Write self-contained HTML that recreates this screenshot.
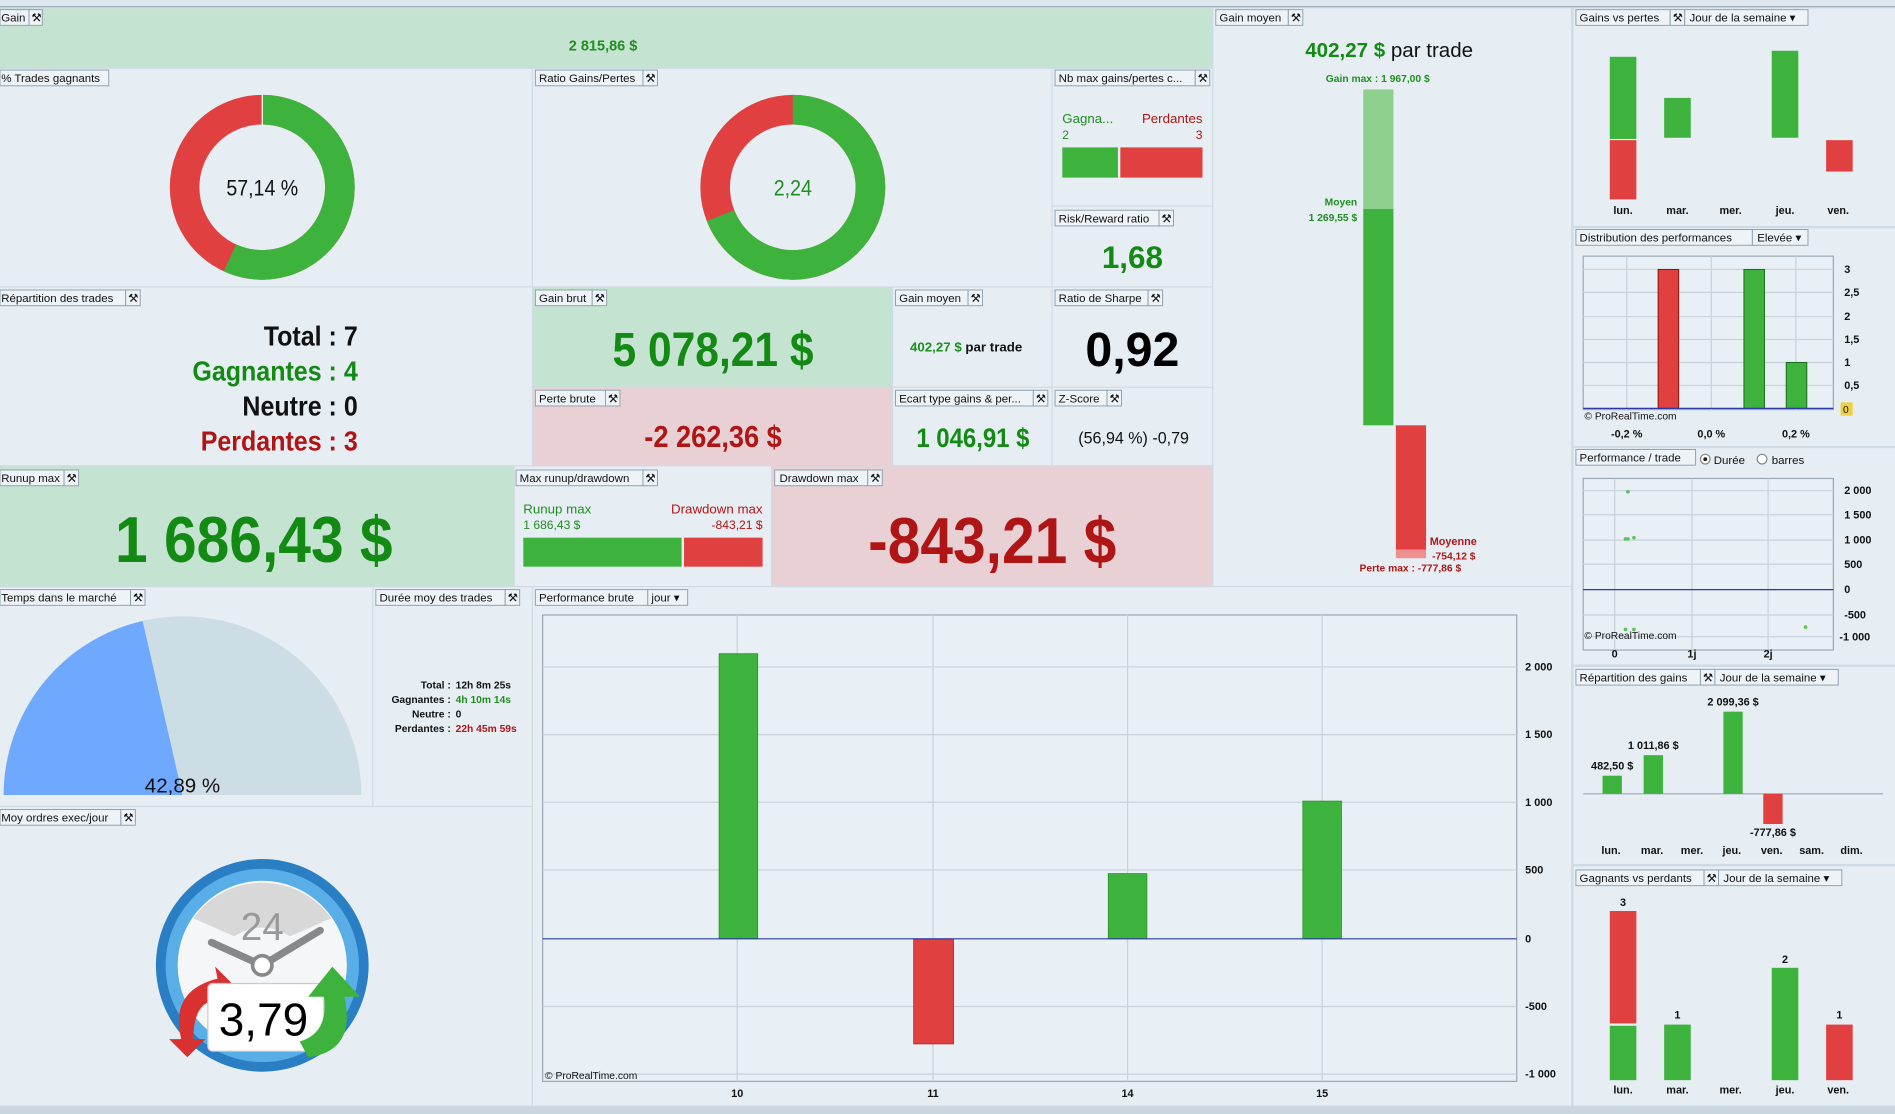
<!DOCTYPE html>
<html><head><meta charset="utf-8"><style>
html,body{margin:0;padding:0;background:#d6e0e8;}
svg{display:block;font-family:"Liberation Sans",Arial,sans-serif;}
.h{font-size:9.5px;fill:#111;}
.tab{fill:#eef3f7;stroke:#8fa0ad;stroke-width:0.8;}
.ax{font-size:9px;font-weight:bold;fill:#111;}
</style></head><body>
<svg width="1895" height="1114" viewBox="0 0 1568 922" preserveAspectRatio="none" xmlns="http://www.w3.org/2000/svg">
<rect width="1568" height="922" fill="#cfdbe4"/>
<rect x="0" y="0" width="1568" height="6" fill="#dfe7ee"/>
<line x1="0" y1="5.5" x2="1568" y2="5.5" stroke="#9fb0bd"/>
<!-- panels -->
<rect x="0" y="7" width="1003" height="49" fill="#c5e3d1"/>
<rect x="1004" y="7" width="296" height="478" fill="#e6eef4"/>
<rect x="1302" y="7" width="266" height="180" fill="#e6eef4"/>
<rect x="1302" y="189" width="266" height="180" fill="#e6eef4"/>
<rect x="1302" y="371" width="266" height="179" fill="#e6eef4"/>
<rect x="1302" y="552" width="266" height="163" fill="#e6eef4"/>
<rect x="1302" y="717" width="266" height="198" fill="#e6eef4"/>
<rect x="0" y="57" width="440" height="180" fill="#e6eef4"/>
<rect x="441" y="57" width="429" height="180" fill="#e6eef4"/>
<rect x="871" y="57" width="132" height="113" fill="#e6eef4"/>
<rect x="871" y="171" width="132" height="66" fill="#e6eef4"/>
<rect x="0" y="238" width="440" height="147" fill="#e6eef4"/>
<rect x="441" y="238" width="297" height="82" fill="#c5e3d1"/>
<rect x="739" y="238" width="131" height="82" fill="#e6eef4"/>
<rect x="871" y="238" width="132" height="82" fill="#e6eef4"/>
<rect x="441" y="321" width="297" height="64" fill="#e8d0d4"/>
<rect x="739" y="321" width="131" height="64" fill="#e6eef4"/>
<rect x="871" y="321" width="132" height="64" fill="#e6eef4"/>
<rect x="0" y="386" width="425" height="99" fill="#c5e3d1"/>
<rect x="426" y="386" width="212" height="99" fill="#e6eef4"/>
<rect x="639" y="386" width="364" height="99" fill="#e8d0d4"/>
<rect x="0" y="486" width="308" height="181" fill="#e6eef4"/>
<rect x="309" y="486" width="131" height="181" fill="#e6eef4"/>
<rect x="0" y="668" width="440" height="247" fill="#e6eef4"/>
<rect x="441" y="486" width="859" height="429" fill="#e6eef4"/>
<rect x="0" y="916" width="1568" height="6" fill="#c9d6df"/>

<!-- headers -->
<g>
<rect class="tab" x="0" y="8" width="24" height="13"/><text class="h" x="1" y="18">Gain</text><rect class="tab" x="24" y="8" width="11" height="13"/><text class="h" x="26" y="18">⚒</text>
<rect class="tab" x="0" y="58" width="90" height="13"/><text class="h" x="1" y="68">% Trades gagnants</text>
<rect class="tab" x="443" y="58" width="89" height="13"/><text class="h" x="446" y="68">Ratio Gains/Pertes</text><rect class="tab" x="532" y="58" width="12" height="13"/><text class="h" x="534" y="68">⚒</text>
<rect class="tab" x="873" y="58" width="116" height="13"/><text class="h" x="876" y="68">Nb max gains/pertes c...</text><rect class="tab" x="989" y="58" width="12" height="13"/><text class="h" x="991" y="68">⚒</text>
<rect class="tab" x="873" y="174" width="86" height="13"/><text class="h" x="876" y="184">Risk/Reward ratio</text><rect class="tab" x="959" y="174" width="12" height="13"/><text class="h" x="961" y="184">⚒</text>
<rect class="tab" x="0" y="240" width="104" height="13"/><text class="h" x="1" y="250">Répartition des trades</text><rect class="tab" x="104" y="240" width="12" height="13"/><text class="h" x="106" y="250">⚒</text>
<rect class="tab" x="443" y="240" width="47" height="13"/><text class="h" x="446" y="250">Gain brut</text><rect class="tab" x="490" y="240" width="12" height="13"/><text class="h" x="492" y="250">⚒</text>
<rect class="tab" x="741" y="240" width="60" height="13"/><text class="h" x="744" y="250">Gain moyen</text><rect class="tab" x="801" y="240" width="12" height="13"/><text class="h" x="803" y="250">⚒</text>
<rect class="tab" x="873" y="240" width="77" height="13"/><text class="h" x="876" y="250">Ratio de Sharpe</text><rect class="tab" x="950" y="240" width="12" height="13"/><text class="h" x="952" y="250">⚒</text>
<rect class="tab" x="443" y="323" width="58" height="13"/><text class="h" x="446" y="333">Perte brute</text><rect class="tab" x="501" y="323" width="12" height="13"/><text class="h" x="503" y="333">⚒</text>
<rect class="tab" x="741" y="323" width="114" height="13"/><text class="h" x="744" y="333">Ecart type gains &amp; per...</text><rect class="tab" x="855" y="323" width="12" height="13"/><text class="h" x="857" y="333">⚒</text>
<rect class="tab" x="873" y="323" width="43" height="13"/><text class="h" x="876" y="333">Z-Score</text><rect class="tab" x="916" y="323" width="12" height="13"/><text class="h" x="918" y="333">⚒</text>
<rect class="tab" x="0" y="389" width="53" height="13"/><text class="h" x="1" y="399">Runup max</text><rect class="tab" x="53" y="389" width="12" height="13"/><text class="h" x="55" y="399">⚒</text>
<rect class="tab" x="427" y="389" width="105" height="13"/><text class="h" x="430" y="399">Max runup/drawdown</text><rect class="tab" x="532" y="389" width="12" height="13"/><text class="h" x="534" y="399">⚒</text>
<rect class="tab" x="641" y="389" width="77" height="13"/><text class="h" x="645" y="399">Drawdown max</text><rect class="tab" x="718" y="389" width="12" height="13"/><text class="h" x="720" y="399">⚒</text>
<rect class="tab" x="0" y="488" width="108" height="13"/><text class="h" x="1" y="498">Temps dans le marché</text><rect class="tab" x="108" y="488" width="12" height="13"/><text class="h" x="110" y="498">⚒</text>
<rect class="tab" x="311" y="488" width="107" height="13"/><text class="h" x="314" y="498">Durée moy des trades</text><rect class="tab" x="418" y="488" width="12" height="13"/><text class="h" x="420" y="498">⚒</text>
<rect class="tab" x="443" y="488" width="93" height="13"/><text class="h" x="446" y="498">Performance brute</text><rect class="tab" x="536" y="488" width="33" height="13"/><text class="h" x="539" y="498">jour ▾</text>
<rect class="tab" x="0" y="670" width="100" height="13"/><text class="h" x="1" y="680">Moy ordres exec/jour</text><rect class="tab" x="100" y="670" width="12" height="13"/><text class="h" x="102" y="680">⚒</text>
<rect class="tab" x="1006" y="8" width="60" height="13"/><text class="h" x="1009" y="18">Gain moyen</text><rect class="tab" x="1066" y="8" width="12" height="13"/><text class="h" x="1068" y="18">⚒</text>
<rect class="tab" x="1304" y="8" width="78" height="13"/><text class="h" x="1307" y="18">Gains vs pertes</text><rect class="tab" x="1382" y="8" width="12" height="13"/><text class="h" x="1384" y="18">⚒</text><rect class="tab" x="1394" y="8" width="102" height="13"/><text class="h" x="1398" y="18">Jour de la semaine ▾</text>
<rect class="tab" x="1304" y="190" width="146" height="13"/><text class="h" x="1307" y="200">Distribution des performances</text><rect class="tab" x="1450" y="190" width="46" height="13"/><text class="h" x="1454" y="200">Elevée ▾</text>
<rect class="tab" x="1304" y="372" width="99" height="13"/><text class="h" x="1307" y="382">Performance / trade</text>
<circle cx="1411" cy="380" r="4" fill="#fff" stroke="#888"/><circle cx="1411" cy="380" r="1.6" fill="#222"/><text class="h" x="1418" y="384">Durée</text>
<circle cx="1458" cy="380" r="4" fill="#fff" stroke="#888"/><text class="h" x="1466" y="384">barres</text>
<rect class="tab" x="1304" y="554" width="103" height="13"/><text class="h" x="1307" y="564">Répartition des gains</text><rect class="tab" x="1407" y="554" width="12" height="13"/><text class="h" x="1409" y="564">⚒</text><rect class="tab" x="1419" y="554" width="102" height="13"/><text class="h" x="1423" y="564">Jour de la semaine ▾</text>
<rect class="tab" x="1304" y="720" width="106" height="13"/><text class="h" x="1307" y="730">Gagnants vs perdants</text><rect class="tab" x="1410" y="720" width="12" height="13"/><text class="h" x="1412" y="730">⚒</text><rect class="tab" x="1422" y="720" width="102" height="13"/><text class="h" x="1426" y="730">Jour de la semaine ▾</text>
</g>

<!-- Gain -->
<text x="499" y="42" font-size="12" font-weight="bold" fill="#1f8f1f" text-anchor="middle">2 815,86 $</text>

<!-- donut 1 -->
<g transform="translate(217,155)">
<circle r="64.25" fill="none" stroke="#e04040" stroke-width="24.5"/>
<path d="M0,-76.5 A76.5,76.5 0 1 1 -31.8,69.6 L-21.6,47.3 A52,52 0 1 0 0,-52 Z" fill="#3db33d"/>
<line x1="0" y1="-77" x2="0" y2="-51" stroke="#fff"/>
<text y="7" font-size="18" text-anchor="middle" fill="#111" transform="scale(0.9,1)">57,14 %</text>
</g>
<g transform="translate(656,155)">
<circle r="64.25" fill="none" stroke="#e04040" stroke-width="24.5"/>
<path d="M0,-76.5 A76.5,76.5 0 1 1 -71.2,28.0 L-48.4,19.0 A52,52 0 1 0 0,-52 Z" fill="#3db33d"/>
<text y="7" font-size="18" text-anchor="middle" fill="#1f8f1f" transform="scale(0.9,1)">2,24</text>
</g>

<!-- Nb max -->
<text x="879" y="102" font-size="11" fill="#1f8f1f">Gagna...</text>
<text x="995" y="102" font-size="11" fill="#b01515" text-anchor="end">Perdantes</text>
<text x="879" y="115" font-size="10" fill="#1f8f1f">2</text>
<text x="995" y="115" font-size="10" fill="#b01515" text-anchor="end">3</text>
<rect x="879" y="122" width="46" height="25" fill="#3db33d"/><rect x="927" y="122" width="68" height="25" fill="#e04040"/>
<text x="937" y="222" font-size="26" font-weight="bold" fill="#138a13" text-anchor="middle">1,68</text>

<!-- Répartition -->
<g font-size="23" font-weight="bold" text-anchor="end" transform="translate(296,0) scale(0.9,1)">
<text x="0" y="286" fill="#111">Total : 7</text>
<text x="0" y="315" fill="#138a13">Gagnantes : 4</text>
<text x="0" y="344" fill="#111">Neutre : 0</text>
<text x="0" y="373" fill="#b01515">Perdantes : 3</text>
</g>
<text font-size="40" font-weight="bold" fill="#138a13" text-anchor="middle" transform="translate(590,303) scale(0.88,1)">5 078,21 $</text>
<text x="753" y="291" font-size="11" font-weight="bold" fill="#1f8f1f">402,27 $ <tspan fill="#111">par trade</tspan></text>
<text x="937" y="303" font-size="40" font-weight="bold" fill="#000" text-anchor="middle">0,92</text>
<text font-size="25" font-weight="bold" fill="#b01515" text-anchor="middle" transform="translate(590,370) scale(0.9,1)">-2 262,36 $</text>
<text font-size="22" font-weight="bold" fill="#138a13" text-anchor="middle" transform="translate(805,370) scale(0.9,1)">1 046,91 $</text>
<text font-size="14" fill="#111" text-anchor="middle" transform="translate(938,367) scale(0.95,1)">(56,94 %) -0,79</text>

<text font-size="54" font-weight="bold" fill="#138a13" text-anchor="middle" transform="translate(210,465) scale(0.9,1)">1 686,43 $</text>
<text x="433" y="425" font-size="11" fill="#1f8f1f">Runup max</text>
<text x="631" y="425" font-size="11" fill="#b01515" text-anchor="end">Drawdown max</text>
<text x="433" y="438" font-size="10" fill="#1f8f1f">1 686,43 $</text>
<text x="631" y="438" font-size="10" fill="#b01515" text-anchor="end">-843,21 $</text>
<rect x="433" y="445" width="131" height="24" fill="#3db33d"/><rect x="566" y="445" width="65" height="24" fill="#e04040"/>
<text font-size="54" font-weight="bold" fill="#b01515" text-anchor="middle" transform="translate(821,466) scale(0.9,1)">-843,21 $</text>

<!-- Gain moyen tall -->
<text x="1080" y="47" font-size="17" font-weight="bold" fill="#138a13">402,27 $ <tspan fill="#111" font-weight="normal">par trade</tspan></text>
<text x="1140" y="68" font-size="8.5" font-weight="bold" fill="#1f8f1f" text-anchor="middle">Gain max : 1 967,00 $</text>
<rect x="1128" y="74" width="25" height="99" fill="#8dd08d"/>
<rect x="1128" y="173" width="25" height="179" fill="#3db33d"/>
<rect x="1155" y="352" width="25" height="103" fill="#e04040"/>
<rect x="1155" y="455" width="25" height="7" fill="#ee9090"/>
<text x="1123" y="170" font-size="8.5" font-weight="bold" fill="#1f8f1f" text-anchor="end">Moyen</text>
<text x="1123" y="183" font-size="8.5" font-weight="bold" fill="#1f8f1f" text-anchor="end">1 269,55 $</text>
<text x="1183" y="451" font-size="9" font-weight="bold" fill="#b01515">Moyenne</text>
<text x="1185" y="463" font-size="8.5" font-weight="bold" fill="#b01515">-754,12 $</text>
<text x="1167" y="473" font-size="8.5" font-weight="bold" fill="#b01515" text-anchor="middle">Perte max : -777,86 $</text>

<!-- Temps -->
<path d="M3,658 A148,148 0 0 1 299,658 Z" fill="#cddde6"/>
<path d="M3,658 A148,148 0 0 1 118,514 L151,658 Z" fill="#6fa8ff"/>
<text x="151" y="656" font-size="17" fill="#111" text-anchor="middle">42,89 %</text>
<g font-size="8.5" font-weight="bold">
<text x="373" y="570" fill="#111" text-anchor="end">Total :</text>
<text x="373" y="582" fill="#111" text-anchor="end">Gagnantes :</text>
<text x="373" y="594" fill="#111" text-anchor="end">Neutre :</text>
<text x="373" y="606" fill="#111" text-anchor="end">Perdantes :</text>
<text x="377" y="570" fill="#111">12h 8m 25s</text>
<text x="377" y="582" fill="#1f8f1f">4h 10m 14s</text>
<text x="377" y="594" fill="#111">0</text>
<text x="377" y="606" fill="#b01515">22h 45m 59s</text>
</g>

<!-- clock -->
<g>
<circle cx="217" cy="799" r="88" fill="#2a7fc4"/>
<circle cx="217" cy="799" r="80" fill="#5aaee8"/>
<circle cx="217" cy="799" r="70" fill="#f4f6f8"/>
<path d="M160,760 A70,70 0 0 1 274,760 L240,775 A40,40 0 0 0 194,775 Z" fill="#d8d8d8"/>
<text x="217" y="778" font-size="32" fill="#999" text-anchor="middle">24</text>
<path d="M217,799 L175,780 M217,799 L265,770" stroke="#888" stroke-width="6" stroke-linecap="round"/>
<circle cx="217" cy="799" r="8" fill="#fff" stroke="#888" stroke-width="3"/>
<path d="M150,860 Q140,820 180,810 L178,800 L200,822 L175,840 L178,828 Q160,830 160,860 L170,860 L155,875 L140,860 Z" fill="#d93030"/>
<rect x="172" y="814" width="96" height="56" rx="4" fill="#fff" stroke="#ccc"/>
<path d="M255,875 Q295,870 285,825 L298,825 L275,800 L255,825 L268,825 Q272,855 248,862 Z" fill="#3db33d"/>
<text x="218" y="857" font-size="38" fill="#000" text-anchor="middle">3,79</text>
</g>

<!-- Performance brute chart -->
<rect x="449" y="509" width="806" height="386" fill="#e8eff5" stroke="#9aa8b4"/>
<g stroke="#c7d2db">
<line x1="610" y1="509" x2="610" y2="895"/><line x1="772" y1="509" x2="772" y2="895"/><line x1="933" y1="509" x2="933" y2="895"/><line x1="1094" y1="509" x2="1094" y2="895"/>
<line x1="449" y1="552" x2="1255" y2="552"/><line x1="449" y1="608" x2="1255" y2="608"/><line x1="449" y1="664" x2="1255" y2="664"/><line x1="449" y1="720" x2="1255" y2="720"/><line x1="449" y1="833" x2="1255" y2="833"/><line x1="449" y1="889" x2="1255" y2="889"/>
</g>
<rect x="595" y="541" width="32" height="236" fill="#3db33d" stroke="#2a8a2a" stroke-width="0.6"/>
<rect x="756" y="777" width="33" height="87" fill="#e04040" stroke="#a02020" stroke-width="0.6"/>
<rect x="917" y="723" width="32" height="54" fill="#3db33d" stroke="#2a8a2a" stroke-width="0.6"/>
<rect x="1078" y="663" width="32" height="114" fill="#3db33d" stroke="#2a8a2a" stroke-width="0.6"/>
<line x1="449" y1="777" x2="1255" y2="777" stroke="#2a3aa0"/>
<g class="ax" font-weight="normal">
<text x="1262" y="555">2 000</text><text x="1262" y="611">1 500</text><text x="1262" y="667">1 000</text><text x="1262" y="723">500</text><text x="1262" y="780">0</text><text x="1262" y="836">-500</text><text x="1262" y="892">-1 000</text>
</g>
<g class="ax" text-anchor="middle"><text x="610" y="908">10</text><text x="772" y="908">11</text><text x="933" y="908">14</text><text x="1094" y="908">15</text></g>
<text x="451" y="893" font-size="8.5" fill="#111">© ProRealTime.com</text>

<!-- Gains vs pertes -->
<rect x="1332" y="47" width="22" height="68" fill="#3db33d"/><rect x="1332" y="116" width="22" height="49" fill="#e04040"/>
<rect x="1377" y="81" width="22" height="33" fill="#3db33d"/>
<rect x="1466" y="42" width="22" height="72" fill="#3db33d"/>
<rect x="1511" y="116" width="22" height="26" fill="#e04040"/>
<g class="ax" text-anchor="middle"><text x="1343" y="177">lun.</text><text x="1388" y="177">mar.</text><text x="1432" y="177">mer.</text><text x="1477" y="177">jeu.</text><text x="1521" y="177">ven.</text></g>

<!-- Distribution -->
<rect x="1310" y="212" width="207" height="127" fill="#e8eff5" stroke="#9aa8b4"/>
<g stroke="#c7d2db"><line x1="1346" y1="212" x2="1346" y2="339"/><line x1="1416" y1="212" x2="1416" y2="339"/><line x1="1486" y1="212" x2="1486" y2="339"/>
<line x1="1310" y1="223" x2="1517" y2="223"/><line x1="1310" y1="242" x2="1517" y2="242"/><line x1="1310" y1="262" x2="1517" y2="262"/><line x1="1310" y1="281" x2="1517" y2="281"/><line x1="1310" y1="300" x2="1517" y2="300"/><line x1="1310" y1="319" x2="1517" y2="319"/></g>
<rect x="1372" y="223" width="17" height="115" fill="#e04040" stroke="#8a1010" stroke-width="0.8"/>
<rect x="1443" y="223" width="17" height="115" fill="#3db33d" stroke="#1a6a1a" stroke-width="0.8"/>
<rect x="1478" y="300" width="17" height="38" fill="#3db33d" stroke="#1a6a1a" stroke-width="0.8"/>
<line x1="1310" y1="338" x2="1517" y2="338" stroke="#2a3aa0"/>
<text x="1311" y="347" font-size="8.5" fill="#111">© ProRealTime.com</text>
<g class="ax" font-weight="normal" font-size="8.5"><text x="1526" y="226">3</text><text x="1526" y="245">2,5</text><text x="1526" y="265">2</text><text x="1526" y="284">1,5</text><text x="1526" y="303">1</text><text x="1526" y="322">0,5</text></g>
<rect x="1523" y="333" width="10" height="11" fill="#f0d040"/><text x="1525" y="342" font-size="8.5" fill="#111">0</text>
<g class="ax" text-anchor="middle" font-size="8.5"><text x="1346" y="362">-0,2 %</text><text x="1416" y="362">0,0 %</text><text x="1486" y="362">0,2 %</text></g>

<!-- Performance / trade -->
<rect x="1310" y="396" width="207" height="142" fill="#e8eff5" stroke="#9aa8b4"/>
<g stroke="#c7d2db"><line x1="1336" y1="396" x2="1336" y2="538"/><line x1="1400" y1="396" x2="1400" y2="538"/><line x1="1463" y1="396" x2="1463" y2="538"/>
<line x1="1310" y1="406" x2="1517" y2="406"/><line x1="1310" y1="426" x2="1517" y2="426"/><line x1="1310" y1="447" x2="1517" y2="447"/><line x1="1310" y1="467" x2="1517" y2="467"/><line x1="1310" y1="509" x2="1517" y2="509"/><line x1="1310" y1="527" x2="1517" y2="527"/></g>
<line x1="1310" y1="488" x2="1517" y2="488" stroke="#2a3aa0"/>
<g fill="#5cc25c"><circle cx="1347" cy="407" r="1.5"/><circle cx="1345" cy="446" r="1.5"/><circle cx="1347" cy="446" r="1.5"/><circle cx="1352" cy="445" r="1.5"/><circle cx="1345" cy="521" r="1.5"/><circle cx="1352" cy="521" r="1.5"/><circle cx="1494" cy="519" r="1.5"/></g>
<text x="1311" y="529" font-size="8.5" fill="#111">© ProRealTime.com</text>
<g class="ax" font-weight="normal" font-size="8.5"><text x="1526" y="409">2 000</text><text x="1526" y="429">1 500</text><text x="1526" y="450">1 000</text><text x="1526" y="470">500</text><text x="1526" y="491">0</text><text x="1526" y="512">-500</text><text x="1522" y="530">-1 000</text></g>
<g class="ax" text-anchor="middle" font-size="8.5"><text x="1336" y="544">0</text><text x="1400" y="544">1j</text><text x="1463" y="544">2j</text></g>

<!-- Répartition des gains -->
<line x1="1310" y1="657" x2="1558" y2="657" stroke="#9aa8b4"/>
<rect x="1326" y="642" width="16" height="15" fill="#3db33d"/>
<rect x="1360" y="625" width="16" height="32" fill="#3db33d"/>
<rect x="1426" y="589" width="16" height="68" fill="#3db33d"/>
<rect x="1459" y="657" width="16" height="25" fill="#e04040"/>
<g class="ax" text-anchor="middle" font-size="8.5"><text x="1334" y="637">482,50 $</text><text x="1368" y="620">1 011,86 $</text><text x="1434" y="584">2 099,36 $</text><text x="1467" y="692">-777,86 $</text>
<text x="1333" y="707">lun.</text><text x="1367" y="707">mar.</text><text x="1400" y="707">mer.</text><text x="1433" y="707">jeu.</text><text x="1466" y="707">ven.</text><text x="1499" y="707">sam.</text><text x="1532" y="707">dim.</text></g>

<!-- Gagnants vs perdants -->
<rect x="1332" y="754" width="22" height="93" fill="#e04040"/><rect x="1332" y="849" width="22" height="45" fill="#3db33d"/>
<rect x="1377" y="848" width="22" height="46" fill="#3db33d"/>
<rect x="1466" y="801" width="22" height="93" fill="#3db33d"/>
<rect x="1511" y="848" width="22" height="46" fill="#e04040"/>
<g class="ax" text-anchor="middle"><text x="1343" y="750">3</text><text x="1388" y="843">1</text><text x="1477" y="797">2</text><text x="1522" y="843">1</text>
<text x="1343" y="905">lun.</text><text x="1388" y="905">mar.</text><text x="1432" y="905">mer.</text><text x="1477" y="905">jeu.</text><text x="1521" y="905">ven.</text></g>
</svg>
</body></html>
